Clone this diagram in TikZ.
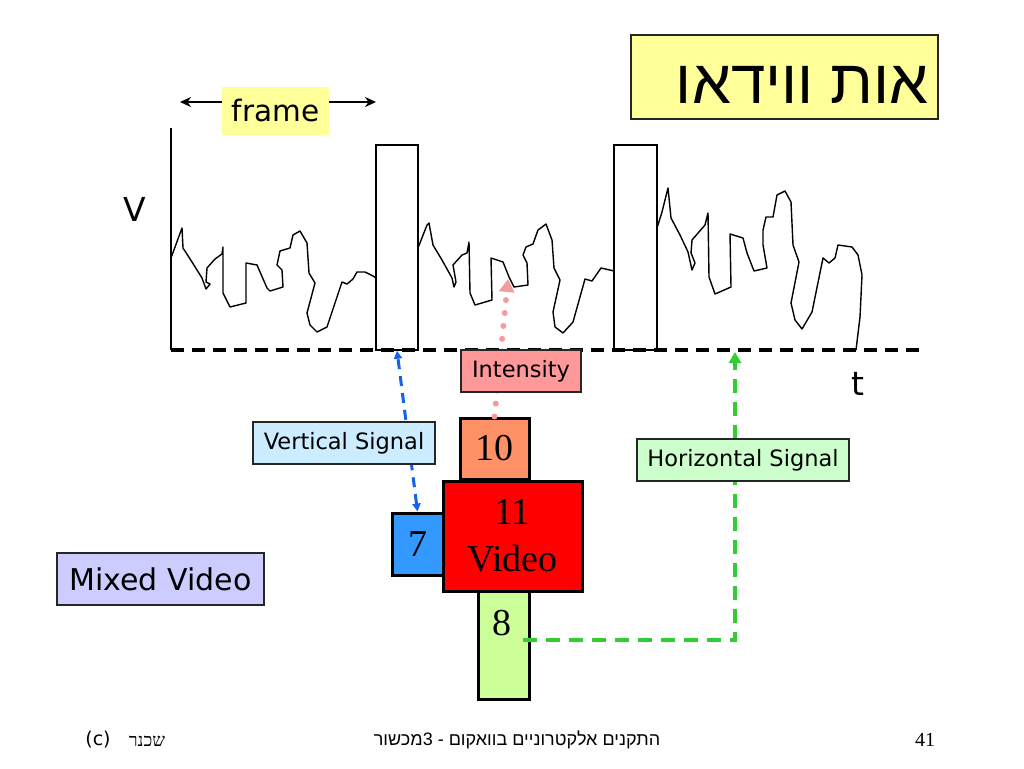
\documentclass[tikz,border=0pt]{standalone}
\usepackage{fontspec}
\setmainfont{Liberation Serif}
\newfontfamily\vsans{DejaVu Sans}
\newfontfamily\hebsans[Script=Hebrew]{Liberation Sans}
\newfontfamily\hebserif[Script=Hebrew]{Liberation Serif}
\TeXXeTstate=1
\usetikzlibrary{arrows.meta,calc}
\definecolor{yel}{HTML}{FFFF99}
\definecolor{intpink}{HTML}{FF9999}
\definecolor{vblue}{HTML}{CCECFF}
\definecolor{hgreen}{HTML}{CCFFCC}
\definecolor{mixv}{HTML}{CCCCFF}
\definecolor{tenc}{HTML}{FF9166}
\definecolor{sevenc}{HTML}{3399FF}
\definecolor{eightc}{HTML}{CCFF99}
\definecolor{bluel}{RGB}{20,100,230}
\definecolor{pinkl}{RGB}{245,155,155}
\definecolor{greenl}{RGB}{51,204,51}
\tikzset{
  lbl/.style={draw=black!85, line width=1.3, inner sep=0, font=\vsans\fontsize{22.5}{26}\selectfont},
  numbox/.style={draw=black, line width=3, inner sep=0, font=\fontsize{38}{40}\selectfont},
  pulse/.style={draw=black, line width=1.5, fill=white, inner sep=0},
  wave/.style={line width=1.4, line join=round},
  bigsans/.style={font=\vsans\fontsize{33}{36}\selectfont, inner sep=0},
}
\begin{document}
\begin{tikzpicture}[x=1pt,y=-1pt]
\useasboundingbox (0,0) rectangle (1024,768);
% title
\node[draw=black!85, line width=1.3, fill=yel, minimum width=307, minimum height=84, inner sep=0] (title) at (784.5,77) {};
\node[anchor=base east, inner sep=0, font=\hebsans\fontsize{62}{64}\selectfont] (titletxt) at (929,103) {\beginR אות ווידאו\endR};
% frame
\node[fill=yel, minimum width=107, minimum height=48, inner sep=0, font=\vsans\fontsize{29.5}{32}\selectfont] (frame) at (275.5,111) {frame};
\coordinate (fl) at (180,102);
\coordinate (fr) at (376,102);
\draw[line width=2.5, -{Stealth[length=11,width=10]}] (frame.west |- fl) -- (fl);
\draw[line width=2.5, -{Stealth[length=11,width=10]}] (frame.east |- fr) -- (fr);
% axes
\coordinate (ytop) at (171,128);
\coordinate (orig) at (171,350);
\coordinate (xend) at (922,350);
\draw[line width=1.5] (ytop) -- (orig);
\node[bigsans] (vlab) at (134.5,209.5) {V};
\node[bigsans] (tlab) at (858,384) {t};
% waveform
\draw[wave] (171,258) -- (182,228) -- (183,248) -- (192,262) -- (202,278) -- (206,289) -- (210,284) -- (206,282) -- (207,268) -- (215,259) -- (222,254) -- (223,247) -- (223,293) -- (230,307) -- (246,303) -- (246,263) -- (257,265) -- (267,288) -- (270,291) -- (283,287) -- (282,270) -- (277,265) -- (280,251) -- (290,248) -- (293,235) -- (300,231) -- (307,243) -- (309,273) -- (315,283) -- (307,313) -- (310,325) -- (317,332) -- (327,327) -- (342,282) -- (347,284) -- (353,279) -- (357,272) -- (365,272) -- (373,276) -- (376,278);
\draw[wave] (418,248) -- (427,225) -- (429,223) -- (433,245) -- (442,260) -- (452,278) -- (454,287) -- (456,282) -- (453,265) -- (462,255) -- (467,253) -- (469,242) -- (470,293) -- (475,305) -- (492,300) -- (491,258) -- (503,262) -- (509,277) -- (514,287) -- (528,285) -- (527,263) -- (523,255) -- (526,247) -- (533,244) -- (538,230) -- (546,224) -- (552,240) -- (554,268) -- (560,280) -- (553,312) -- (555,327) -- (563,333) -- (573,322) -- (585,279) -- (592,281) -- (601,268) -- (614,271);
\draw[wave] (657,228) -- (662,212) -- (668,188) -- (671,218) -- (680,235) -- (688,252) -- (692,270) -- (695,263) -- (691,253) -- (692,240) -- (705,225) -- (708,213) -- (709,277) -- (715,294) -- (731,287) -- (730,234) -- (743,238) -- (747,253) -- (754,271) -- (767,268) -- (763,245) -- (763,230) -- (766,217) -- (773,217) -- (777,195) -- (785,191) -- (791,202) -- (793,245) -- (799,262) -- (791,303) -- (795,320) -- (802,329) -- (812,312) -- (823,258) -- (829,263) -- (835,258) -- (838,245) -- (852,247) -- (858,255) -- (862,275) -- (860,317) -- (856,350);
% sync pulses
\node[pulse, minimum width=42, minimum height=205] (p1) at (397,247.5) {};
\node[pulse, minimum width=43, minimum height=205] (p2) at (635.5,247.5) {};
\draw[line width=4, dash pattern=on 13 off 8] (orig) -- (xend);
% connector boxes
\node[numbox, fill=tenc, minimum width=69, minimum height=61] (ten) at (494.5,448.5) {10};
\node[numbox, fill=sevenc, minimum width=51, minimum height=62] (seven) at (417.5,544) {7};
\node[numbox, fill=eightc, minimum width=51, minimum height=108] (eight) at (503.5,645) {};
\node[inner sep=0, font=\fontsize{38}{40}\selectfont] (eighttxt) at (502,623) {8};
\node[numbox, fill=red, minimum width=139, minimum height=110, align=center, font=\fontsize{38}{47}\selectfont] (eleven) at (512.5,536) {11\\Video};
% connectors
\coordinate (wpt) at (508,279);
\coordinate (hsig) at (735,352);
\draw[bluel, line width=3, dash pattern=on 10 off 7, {Triangle[length=8,width=8]}-{Triangle[length=8,width=8]}] (seven.north) -- (p1.south);
\draw[pinkl, line width=6, line cap=round, dash pattern=on 0 off 13, -{Triangle[length=13,width=15]}] (ten.north) -- (wpt);
\draw[greenl, line width=3.5, dash pattern=on 14 off 9, -{Triangle[length=11,width=12]}] ($(eight.east)+(-8,-5)$) -| (hsig);
% labels
\node[lbl, fill=intpink, minimum width=120, minimum height=42] (intensity) at (521,371) {Intensity};
\node[lbl, fill=vblue, minimum width=182, minimum height=42] (vsig) at (344,443) {Vertical Signal};
\node[lbl, fill=hgreen, minimum width=212, minimum height=42] (hsigbox) at (743,460) {Horizontal Signal};
\node[lbl, fill=mixv, minimum width=207, minimum height=52, font=\vsans\fontsize{30}{34}\selectfont] (mixed) at (160.5,579) {Mixed Video};
% footer
\node[inner sep=0, font=\vsans\fontsize{19}{21}\selectfont] (copy) at (98,740) {(c)};
\node[inner sep=0, font=\hebserif\fontsize{18}{20}\selectfont] (auth) at (147,741) {\beginR שכנר\endR};
\node[inner sep=0, font=\hebsans\fontsize{18}{20}\selectfont] (course) at (517,740) {\beginR התקנים אלקטרוניים בוואקום - 3מכשור\endR};
\node[inner sep=0, font=\fontsize{20}{22}\selectfont] (page) at (925,740) {41};
\end{tikzpicture}
\end{document}
